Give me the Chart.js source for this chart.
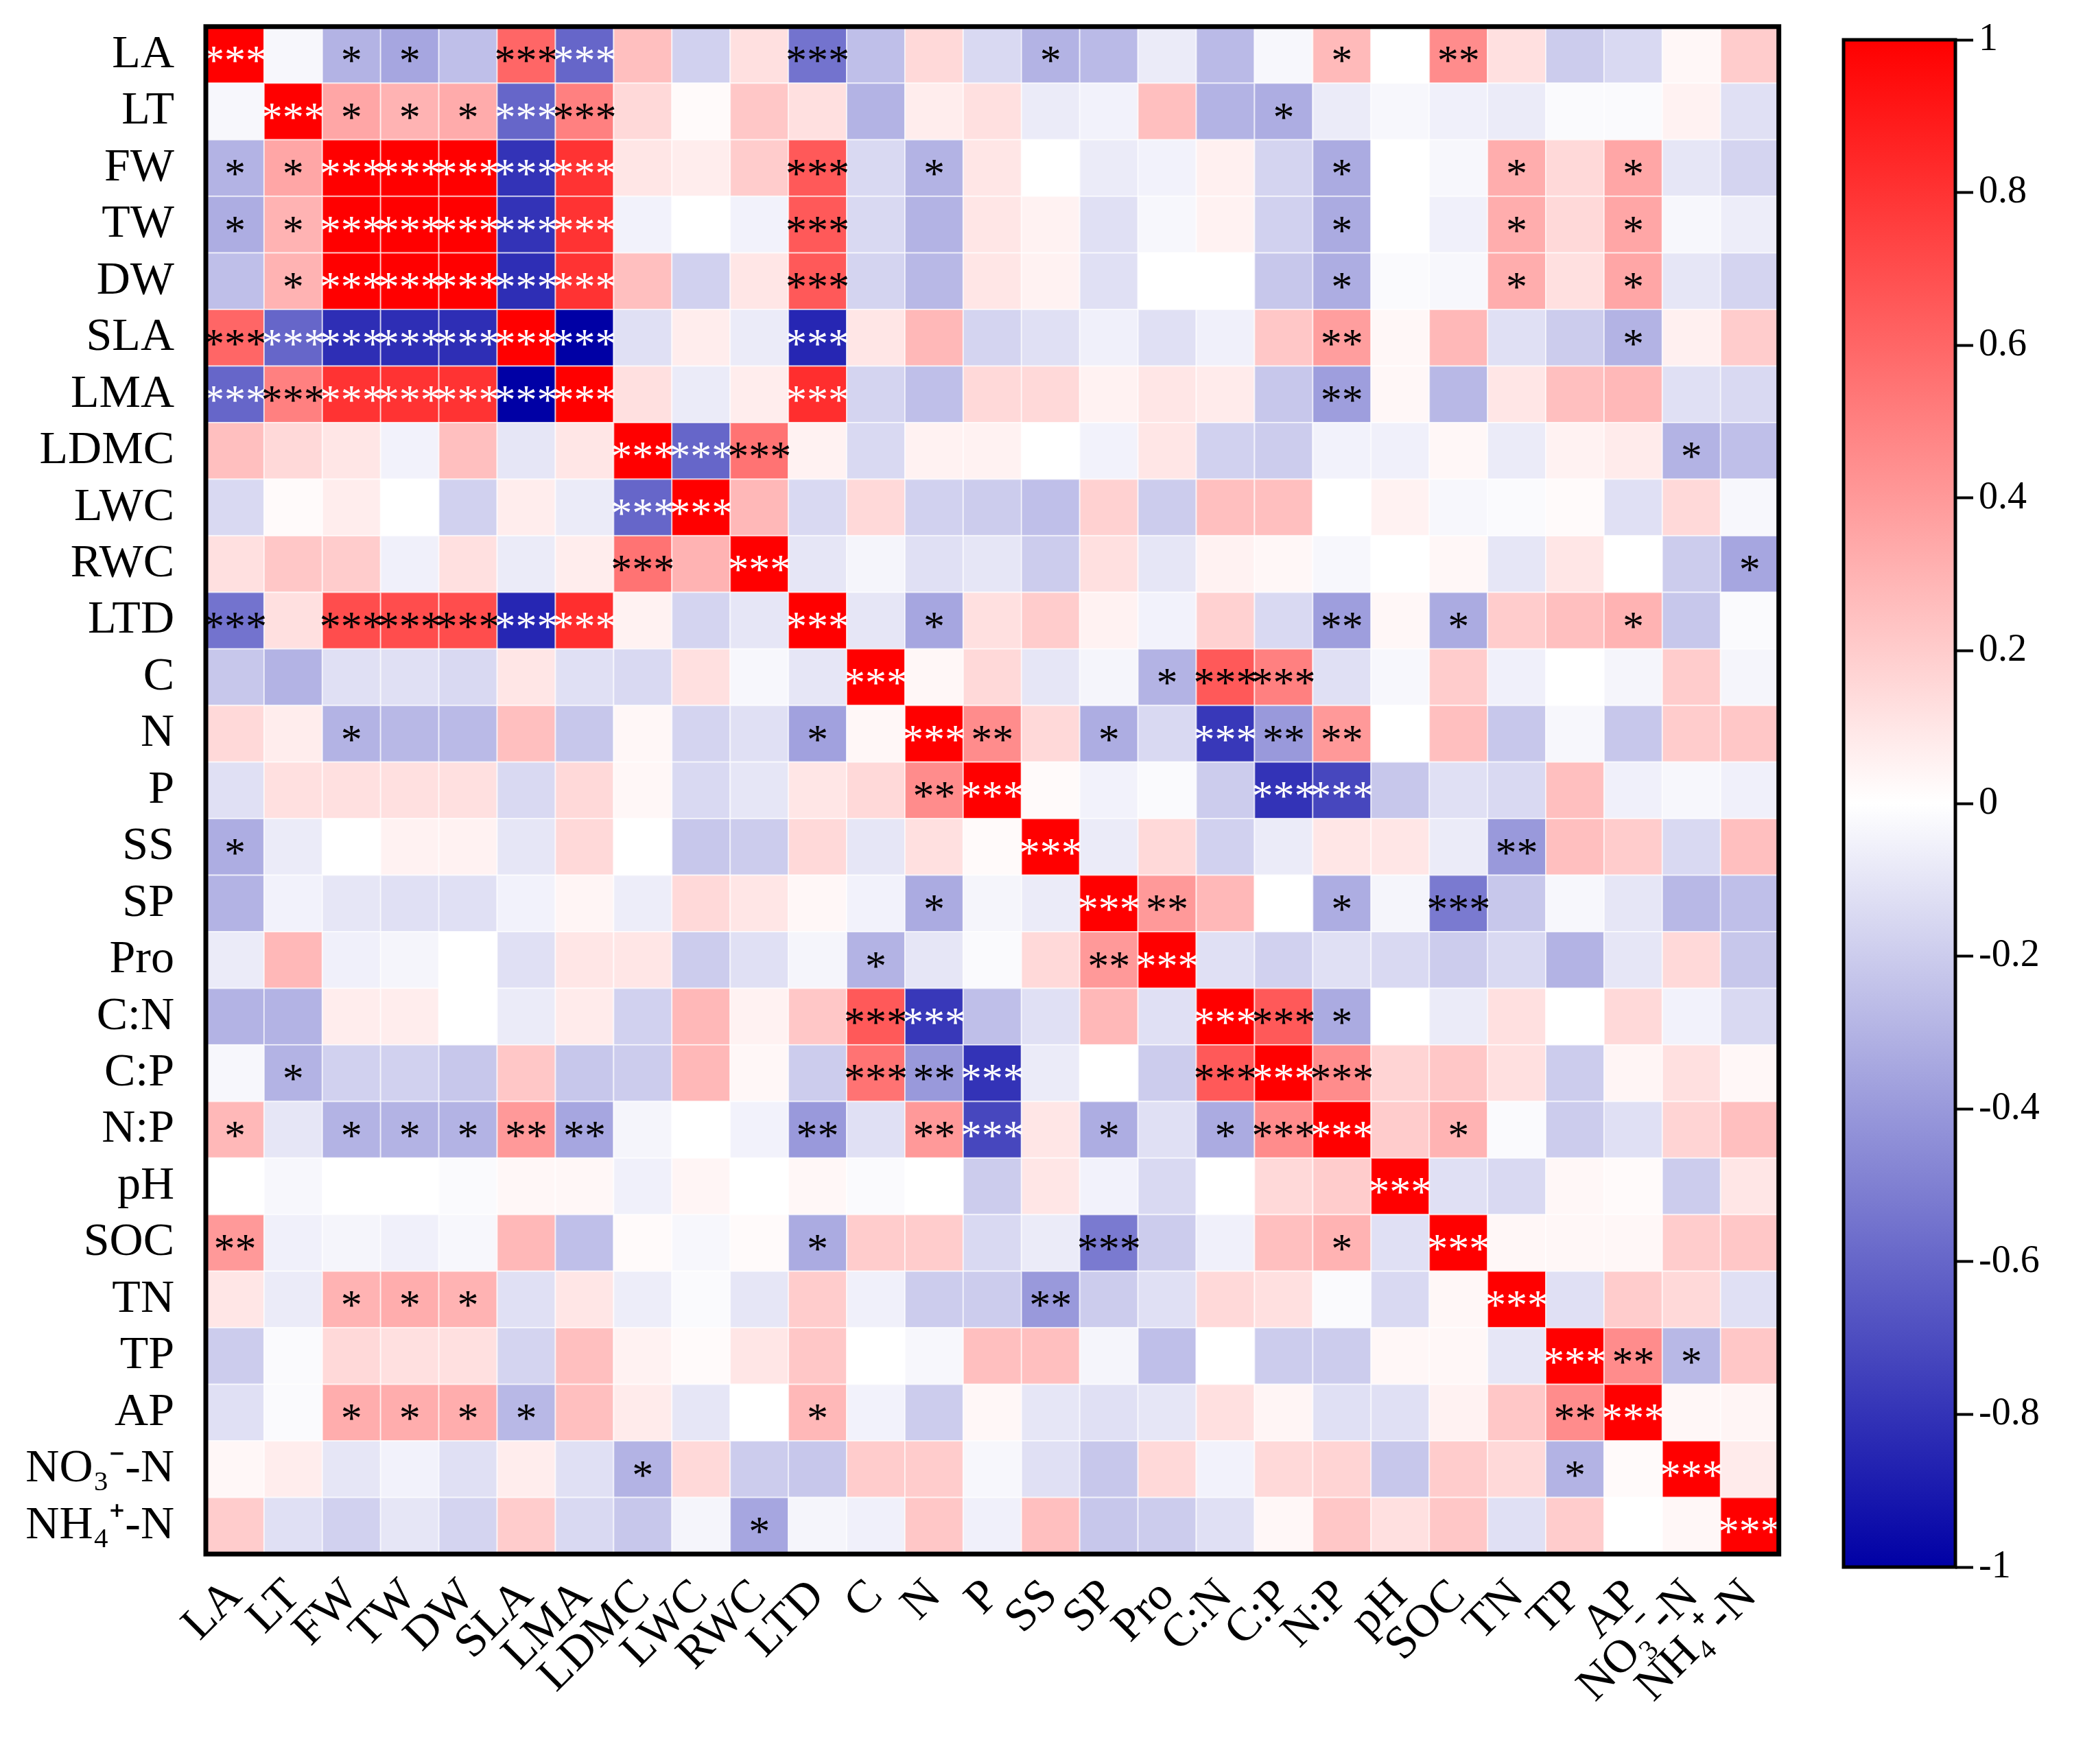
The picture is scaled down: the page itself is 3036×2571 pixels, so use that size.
<!DOCTYPE html>
<html>
<head>
<meta charset="utf-8">
<script src="https://cdn.jsdelivr.net/npm/chart.js@4"></script>
<style>
  body { margin: 0; background: #fff; }
  #wrap { position: relative; width: 3036px; height: 2571px; overflow: hidden; }
  #main { position: absolute; left: 0; top: -48px; }
  #bar { position: absolute; left: 2660px; top: 0; }
</style>
</head>
<body>
<div id="wrap">
  <canvas id="main" width="2630" height="2571"></canvas>
  <canvas id="bar" width="376" height="2571"></canvas>
</div>
<script>
// 变量名
const vars = ['LA','LT','FW','TW','DW','SLA','LMA','LDMC','LWC','RWC','LTD','C','N','P','SS','SP','Pro','C:N','C:P','N:P','pH','SOC','TN','TP','AP','NO₃⁻-N','NH₄⁺-N'];

// 相关系数（按行）
const rLA   = [1,-0.03,-0.3,-0.35,-0.25,0.6,-0.6,0.25,-0.18,0.12,-0.55,-0.25,0.15,-0.15,-0.3,-0.27,-0.08,-0.27,-0.03,0.27,0,0.45,0.12,-0.2,-0.15,0.03,0.2];
const rLT   = [-0.03,1,0.35,0.3,0.33,-0.6,0.5,0.15,0.02,0.22,0.12,-0.3,0.07,0.12,-0.08,-0.05,0.25,-0.3,-0.32,-0.08,-0.03,-0.06,-0.08,-0.02,-0.02,0.05,-0.12];
const rFW   = [-0.3,0.35,1,1,1,-0.8,0.8,0.1,0.07,0.2,0.65,-0.15,-0.3,0.1,0,-0.08,-0.05,0.06,-0.17,-0.33,0,-0.03,0.32,0.15,0.35,-0.1,-0.17];
const rTW   = [-0.32,0.3,1,1,1,-0.8,0.8,-0.05,0,-0.05,0.65,-0.15,-0.3,0.1,0.05,-0.12,-0.03,0.05,-0.18,-0.33,0,-0.06,0.32,0.15,0.35,-0.03,-0.07];
const rDW   = [-0.25,0.3,1,1,1,-0.82,0.8,0.25,-0.18,0.1,0.65,-0.17,-0.28,0.1,0.05,-0.12,0,0,-0.22,-0.32,-0.02,-0.03,0.32,0.12,0.35,-0.1,-0.17];
const rSLA  = [0.6,-0.6,-0.82,-0.82,-0.82,1,-1,-0.12,0.07,-0.08,-0.85,0.1,0.28,-0.17,-0.12,-0.06,-0.12,-0.06,0.22,0.38,0.03,0.28,-0.12,-0.2,-0.3,0.06,0.2];
const rLMA  = [-0.6,0.5,0.8,0.8,0.8,-1,1,0.12,-0.08,0.07,0.82,-0.17,-0.25,0.15,0.15,0.05,0.1,0.08,-0.22,-0.38,0.03,-0.28,0.1,0.25,0.28,-0.12,-0.15];
const rLDMC = [0.25,0.15,0.1,-0.05,0.25,-0.1,0.1,1,-0.6,0.55,0.05,-0.15,0.05,0.05,0,-0.05,0.1,-0.18,-0.2,-0.05,-0.06,0.03,-0.08,0.05,0.08,-0.3,-0.25];
const rLWC  = [-0.15,0.02,0.07,0,-0.18,0.07,-0.08,-0.6,1,0.28,-0.15,0.15,-0.18,-0.2,-0.25,0.18,-0.2,0.25,0.25,0,0.05,-0.03,-0.02,0.02,-0.12,0.15,-0.03];
const rRWC  = [0.12,0.22,0.2,-0.06,0.12,-0.08,0.07,0.55,0.3,1,-0.1,-0.04,-0.12,-0.1,-0.2,0.12,-0.1,0.05,0.03,-0.03,0,0.03,-0.1,0.1,0,-0.2,-0.35];
const rLTD  = [-0.55,0.12,0.7,0.7,0.7,-0.85,0.82,0.05,-0.17,-0.1,1,-0.1,-0.35,0.12,0.2,0.05,-0.05,0.18,-0.15,-0.38,0.03,-0.33,0.2,0.25,0.3,-0.22,-0.02];
const rC    = [-0.22,-0.3,-0.12,-0.12,-0.15,0.1,-0.12,-0.15,0.12,-0.03,-0.1,1,0.03,0.15,-0.1,-0.04,-0.3,0.65,0.5,-0.12,-0.03,0.2,-0.06,0,-0.04,0.2,-0.04];
const rN    = [0.15,0.07,-0.3,-0.28,-0.27,0.25,-0.22,0.03,-0.17,-0.12,-0.37,0.03,1,0.45,0.15,-0.32,-0.15,-0.78,-0.4,0.4,0,0.25,-0.22,-0.03,-0.22,0.2,0.22];
const rP    = [-0.12,0.12,0.12,0.12,0.12,-0.15,0.15,0.03,-0.15,-0.1,0.1,0.15,0.45,1,0.02,-0.05,-0.02,-0.2,-0.8,-0.72,-0.22,-0.12,-0.15,0.25,-0.06,-0.03,-0.06];
const rSS   = [-0.32,-0.08,0,0.05,0.05,-0.1,0.15,0,-0.22,-0.2,0.15,-0.1,0.12,0.02,1,-0.08,0.15,-0.18,-0.08,0.1,0.1,-0.08,-0.4,0.25,0.2,-0.15,0.25];
const rSP   = [-0.3,-0.05,-0.1,-0.12,-0.12,-0.05,0.04,-0.07,0.15,0.1,0.03,-0.05,-0.33,-0.04,-0.08,1,0.4,0.28,0,-0.32,-0.04,-0.52,-0.22,-0.03,-0.1,-0.28,-0.25];
const rPro  = [-0.08,0.28,-0.06,-0.04,0,-0.12,0.1,0.1,-0.2,-0.12,-0.04,-0.3,-0.1,-0.02,0.15,0.4,1,-0.12,-0.18,-0.12,-0.15,-0.2,-0.15,-0.3,-0.1,0.15,-0.22];
const rCN   = [-0.3,-0.3,0.07,0.07,0,-0.08,0.08,-0.18,0.28,0.05,0.22,0.65,-0.78,-0.25,-0.12,0.28,-0.12,1,0.65,-0.33,0,-0.08,0.12,0,0.15,-0.05,-0.15];
const rCP   = [-0.03,-0.3,-0.18,-0.18,-0.22,0.22,-0.22,-0.2,0.28,0.03,-0.2,0.55,-0.4,-0.8,-0.08,0,-0.2,0.65,1,0.45,0.17,0.22,0.12,-0.2,0.04,0.12,0.03];
const rNP   = [0.28,-0.1,-0.3,-0.3,-0.3,0.4,-0.35,-0.04,0,-0.05,-0.4,-0.12,0.4,-0.72,0.1,-0.32,-0.12,-0.33,0.45,1,0.2,0.3,-0.02,-0.2,-0.12,0.17,0.25];
const rpH   = [0,-0.03,0,0,-0.02,0.03,0.03,-0.06,0.04,0,0.03,-0.02,0,-0.2,0.1,-0.05,-0.15,0,0.15,0.2,1,-0.12,-0.15,0.03,0.02,-0.2,0.1];
const rSOC  = [0.4,-0.06,-0.04,-0.06,-0.03,0.28,-0.25,0.02,-0.03,0.02,-0.33,0.2,0.2,-0.15,-0.08,-0.52,-0.2,-0.06,0.25,0.3,-0.12,1,0.03,0.03,0.03,0.2,0.22];
const rTN   = [0.1,-0.08,0.3,0.32,0.3,-0.12,0.1,-0.07,-0.02,-0.1,0.2,-0.06,-0.2,-0.2,-0.4,-0.2,-0.12,0.15,0.12,-0.02,-0.15,0.03,1,-0.12,0.2,0.15,-0.12];
const rTP   = [-0.2,-0.02,0.15,0.12,0.12,-0.17,0.25,0.05,0.02,0.1,0.22,0,-0.03,0.25,0.25,-0.04,-0.25,0,-0.2,-0.2,0.03,0.03,-0.1,1,0.45,-0.28,0.22];
const rAP   = [-0.12,-0.02,0.32,0.32,0.32,-0.28,0.25,0.08,-0.1,0,0.28,-0.05,-0.2,0.03,-0.1,-0.12,-0.1,0.12,0.04,-0.12,-0.12,0.05,0.22,0.45,1,0.03,0.04];
const rNO3  = [0.03,0.07,-0.1,-0.05,-0.12,0.07,-0.12,-0.3,0.15,-0.2,-0.22,0.2,0.2,-0.03,-0.12,-0.22,0.15,-0.05,0.15,0.17,-0.22,0.2,0.15,-0.3,0.02,1,0.08];
const rNH4  = [0.2,-0.12,-0.18,-0.1,-0.17,0.2,-0.15,-0.22,-0.04,-0.35,-0.04,-0.06,0.22,-0.06,0.25,-0.22,-0.2,-0.12,0.03,0.22,0.12,0.22,-0.12,0.2,0,0.03,1];
const corr = [rLA,rLT,rFW,rTW,rDW,rSLA,rLMA,rLDMC,rLWC,rRWC,rLTD,rC,rN,rP,rSS,rSP,rPro,rCN,rCP,rNP,rpH,rSOC,rTN,rTP,rAP,rNO3,rNH4];

// 显著性（每行 27 个，空格分隔，- 表示不显著）
const sig = [
  '3 - 1 1 - 3 3 - - - 3 - - - 1 - - - - 1 - 2 - - - - -',
  '- 3 1 1 1 3 3 - - - - - - - - - - - 1 - - - - - - - -',
  '1 1 3 3 3 3 3 - - - 3 - 1 - - - - - - 1 - - 1 - 1 - -',
  '1 1 3 3 3 3 3 - - - 3 - - - - - - - - 1 - - 1 - 1 - -',
  '- 1 3 3 3 3 3 - - - 3 - - - - - - - - 1 - - 1 - 1 - -',
  '3 3 3 3 3 3 3 - - - 3 - - - - - - - - 2 - - - - 1 - -',
  '3 3 3 3 3 3 3 - - - 3 - - - - - - - - 2 - - - - - - -',
  '- - - - - - - 3 3 3 - - - - - - - - - - - - - - - 1 -',
  '- - - - - - - 3 3 - - - - - - - - - - - - - - - - - -',
  '- - - - - - - 3 - 3 - - - - - - - - - - - - - - - - 1',
  '3 - 3 3 3 3 3 - - - 3 - 1 - - - - - - 2 - 1 - - 1 - -',
  '- - - - - - - - - - - 3 - - - - 1 3 3 - - - - - - - -',
  '- - 1 - - - - - - - 1 - 3 2 - 1 - 3 2 2 - - - - - - -',
  '- - - - - - - - - - - - 2 3 - - - - 3 3 - - - - - - -',
  '1 - - - - - - - - - - - - - 3 - - - - - - - 2 - - - -',
  '- - - - - - - - - - - - 1 - - 3 2 - - 1 - 3 - - - - -',
  '- - - - - - - - - - - 1 - - - 2 3 - - - - - - - - - -',
  '- - - - - - - - - - - 3 3 - - - - 3 3 1 - - - - - - -',
  '- 1 - - - - - - - - - 3 2 3 - - - 3 3 3 - - - - - - -',
  '1 - 1 1 1 2 2 - - - 2 - 2 3 - 1 - 1 3 3 - 1 - - - - -',
  '- - - - - - - - - - - - - - - - - - - - 3 - - - - - -',
  '2 - - - - - - - - - 1 - - - - 3 - - - 1 - 3 - - - - -',
  '- - 1 1 1 - - - - - - - - - 2 - - - - - - - 3 - - - -',
  '- - - - - - - - - - - - - - - - - - - - - - - 3 2 1 -',
  '- - 1 1 1 1 - - - - 1 - - - - - - - - - - - - 2 3 - -',
  '- - - - - - - 1 - - - - - - - - - - - - - - - 1 - 3 -',
  '- - - - - - - - - 1 - - - - - - - - - - - - - - - - 3'
];

const cbTicks = [-1,-0.8,-0.6,-0.4,-0.2,0,0.2,0.4,0.6,0.8,1];

const FONT = '"Times New Roman", "Liberation Serif", serif';
const n = vars.length;

// 蓝-白-红
function colorFor(v) {
  const t = Math.max(-1, Math.min(1, v));
  if (t >= 0) {
    const k = Math.round(255 * (1 - t));
    return `rgb(255,${k},${k})`;
  }
  const a = -t;
  const rg = Math.round(255 * (1 - a));
  const b = Math.round(255 - 90 * a);
  return `rgb(${rg},${rg},${b})`;
}

const points = [];
corr.forEach((row, i) => row.forEach((v, j) => {
  const s = sig[i].split(' ')[j];
  points.push({ x: j, y: i, v: v, s: s === '-' ? '' : '*'.repeat(+s) });
}));

const cellPlugin = {
  id: 'cells',
  beforeDatasetsDraw(chart) {
    const { ctx, scales: { x, y }, chartArea } = chart;
    const w = (x.getPixelForValue(1) - x.getPixelForValue(0));
    const h = (y.getPixelForValue(1) - y.getPixelForValue(0));
    ctx.save();
    points.forEach(p => {
      const cx = x.getPixelForValue(p.x), cy = y.getPixelForValue(p.y);
      ctx.fillStyle = colorFor(p.v);
      ctx.fillRect(cx - w / 2, cy - h / 2, w, h);
      ctx.strokeStyle = 'rgba(255,255,255,0.6)';
      ctx.lineWidth = 2;
      ctx.strokeRect(cx - w / 2, cy - h / 2, w, h);
    });
    ctx.font = `62px ${FONT}`;
    ctx.textAlign = 'center';
    ctx.textBaseline = 'middle';
    points.forEach(p => {
      if (!p.s) return;
      const cx = x.getPixelForValue(p.x), cy = y.getPixelForValue(p.y);
      ctx.fillStyle = (p.v > 0.75 || p.v < -0.56) ? '#fff' : '#000';
      ctx.fillText(p.s, cx, cy + 12);
    });
    ctx.strokeStyle = '#000';
    ctx.lineWidth = 7;
    ctx.strokeRect(chartArea.left, chartArea.top, chartArea.right - chartArea.left, chartArea.bottom - chartArea.top);
    ctx.restore();
  }
};

new Chart(document.getElementById('main'), {
  type: 'scatter',
  data: { datasets: [{ data: points, pointRadius: 0 }] },
  options: {
    responsive: false,
    animation: false,
    layout: { padding: { top: 39, right: 4, left: 0, bottom: 0 } },
    plugins: { legend: { display: false }, tooltip: { enabled: false } },
    scales: {
      x: {
        type: 'linear', min: -0.5, max: n - 0.5,
        afterBuildTicks: s => { s.ticks = vars.map((_, i) => ({ value: i })); },
        afterFit: s => { s.height = 258; },
        grid: { display: false, drawTicks: false },
        border: { display: false },
        ticks: {
          autoSkip: false, minRotation: 45, maxRotation: 45, padding: 22,
          color: '#000', font: { family: FONT, size: 68 },
          callback: v => vars[v]
        }
      },
      y: {
        type: 'linear', reverse: true, min: -0.5, max: n - 0.5,
        afterBuildTicks: s => { s.ticks = vars.map((_, i) => ({ value: i })); },
        afterFit: s => { s.width = 300; },
        grid: { display: false, drawTicks: false },
        border: { display: false },
        ticks: {
          autoSkip: false, padding: 46,
          color: '#000', font: { family: FONT, size: 68 },
          callback: v => vars[v]
        }
      }
    }
  },
  plugins: [cellPlugin]
});

// 色标
const barPlugin = {
  id: 'cbar',
  beforeDatasetsDraw(chart) {
    const { ctx, chartArea: a, scales: { y } } = chart;
    const g = ctx.createLinearGradient(0, y.getPixelForValue(1), 0, y.getPixelForValue(-1));
    for (let k = 0; k <= 20; k++) {
      g.addColorStop(k / 20, colorFor(1 - k / 10));
    }
    ctx.save();
    ctx.fillStyle = g;
    ctx.fillRect(a.left, a.top, a.right - a.left, a.bottom - a.top);
    ctx.strokeStyle = '#000';
    ctx.lineWidth = 5;
    ctx.strokeRect(a.left, a.top, a.right - a.left, a.bottom - a.top);
    ctx.restore();
  }
};

new Chart(document.getElementById('bar'), {
  type: 'scatter',
  data: { datasets: [{ data: [], pointRadius: 0 }] },
  options: {
    responsive: false,
    animation: false,
    layout: { padding: { top: 58, bottom: 287, left: 27, right: 0 } },
    plugins: { legend: { display: false }, tooltip: { enabled: false } },
    scales: {
      x: { display: false, min: 0, max: 1 },
      y: {
        position: 'right', min: -1, max: 1,
        afterBuildTicks: s => { s.ticks = cbTicks.map(v => ({ value: v })); },
        afterFit: s => { s.width = 186; },
        grid: { display: true, drawOnChartArea: false, tickLength: 26, tickWidth: 4, tickColor: '#000' },
        border: { display: false },
        ticks: {
          padding: 8, color: '#000', font: { family: FONT, size: 56 },
          callback: v => String(Math.round(v * 10) / 10)
        }
      }
    }
  },
  plugins: [barPlugin]
});
</script>
</body>
</html>
